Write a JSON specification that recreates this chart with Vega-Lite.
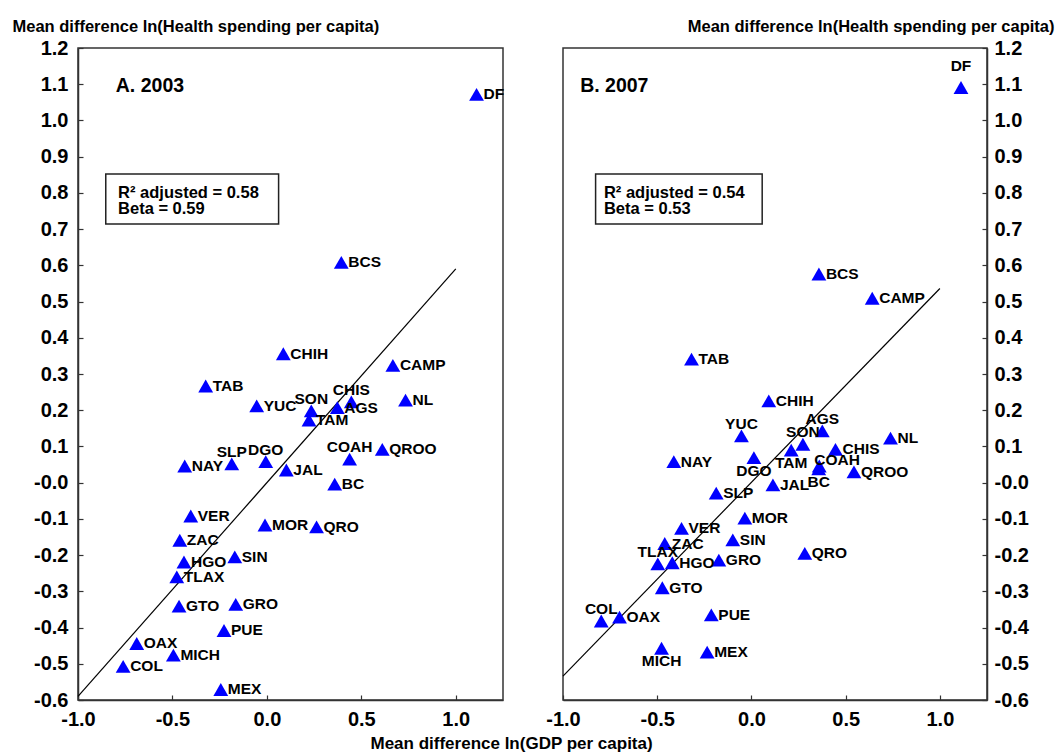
{
  "$schema": "https://vega.github.io/schema/vega-lite/v6.json",
  "background": "white",
  "padding": {"left": 11, "top": 17, "right": 0, "bottom": 0},
  "spacing": 60,
  "bounds": "flush",
  "datasets": {
    "states": [
      {"panel": "A", "state": "DF", "x": 1.110, "y": 1.072},
      {"panel": "A", "state": "BCS", "x": 0.394, "y": 0.608},
      {"panel": "A", "state": "CHIH", "x": 0.087, "y": 0.356},
      {"panel": "A", "state": "CAMP", "x": 0.667, "y": 0.324},
      {"panel": "A", "state": "TAB", "x": -0.324, "y": 0.267},
      {"panel": "A", "state": "YUC", "x": -0.054, "y": 0.212},
      {"panel": "A", "state": "SON", "x": 0.235, "y": 0.198},
      {"panel": "A", "state": "TAM", "x": 0.223, "y": 0.173},
      {"panel": "A", "state": "CHIS", "x": 0.447, "y": 0.223},
      {"panel": "A", "state": "AGS", "x": 0.373, "y": 0.207},
      {"panel": "A", "state": "NL", "x": 0.734, "y": 0.228},
      {"panel": "A", "state": "QROO", "x": 0.611, "y": 0.092},
      {"panel": "A", "state": "COAH", "x": 0.438, "y": 0.065},
      {"panel": "A", "state": "NAY", "x": -0.435, "y": 0.046},
      {"panel": "A", "state": "SLP", "x": -0.186, "y": 0.052},
      {"panel": "A", "state": "DGO", "x": -0.006, "y": 0.058},
      {"panel": "A", "state": "JAL", "x": 0.103, "y": 0.035},
      {"panel": "A", "state": "BC", "x": 0.359, "y": -0.004},
      {"panel": "A", "state": "VER", "x": -0.403, "y": -0.092},
      {"panel": "A", "state": "MOR", "x": -0.010, "y": -0.117},
      {"panel": "A", "state": "QRO", "x": 0.263, "y": -0.122},
      {"panel": "A", "state": "ZAC", "x": -0.461, "y": -0.159},
      {"panel": "A", "state": "SIN", "x": -0.170, "y": -0.205},
      {"panel": "A", "state": "HGO", "x": -0.439, "y": -0.219},
      {"panel": "A", "state": "TLAX", "x": -0.477, "y": -0.260},
      {"panel": "A", "state": "GTO", "x": -0.465, "y": -0.341},
      {"panel": "A", "state": "GRO", "x": -0.165, "y": -0.336},
      {"panel": "A", "state": "PUE", "x": -0.227, "y": -0.408},
      {"panel": "A", "state": "OAX", "x": -0.689, "y": -0.444},
      {"panel": "A", "state": "MICH", "x": -0.495, "y": -0.476},
      {"panel": "A", "state": "COL", "x": -0.761, "y": -0.507},
      {"panel": "A", "state": "MEX", "x": -0.244, "y": -0.571},
      {"panel": "B", "state": "DF", "x": 1.112, "y": 1.091},
      {"panel": "B", "state": "BCS", "x": 0.358, "y": 0.576},
      {"panel": "B", "state": "CAMP", "x": 0.641, "y": 0.509},
      {"panel": "B", "state": "TAB", "x": -0.318, "y": 0.341},
      {"panel": "B", "state": "CHIH", "x": 0.092, "y": 0.226},
      {"panel": "B", "state": "YUC", "x": -0.053, "y": 0.129},
      {"panel": "B", "state": "AGS", "x": 0.376, "y": 0.143},
      {"panel": "B", "state": "SON", "x": 0.273, "y": 0.106},
      {"panel": "B", "state": "TAM", "x": 0.211, "y": 0.090},
      {"panel": "B", "state": "CHIS", "x": 0.446, "y": 0.092},
      {"panel": "B", "state": "NL", "x": 0.738, "y": 0.123},
      {"panel": "B", "state": "NAY", "x": -0.412, "y": 0.058},
      {"panel": "B", "state": "DGO", "x": 0.013, "y": 0.069},
      {"panel": "B", "state": "COAH", "x": 0.360, "y": 0.046},
      {"panel": "B", "state": "BC", "x": 0.357, "y": 0.038},
      {"panel": "B", "state": "QROO", "x": 0.544, "y": 0.030},
      {"panel": "B", "state": "JAL", "x": 0.114, "y": -0.006},
      {"panel": "B", "state": "SLP", "x": -0.187, "y": -0.029},
      {"panel": "B", "state": "MOR", "x": -0.035, "y": -0.098},
      {"panel": "B", "state": "VER", "x": -0.371, "y": -0.126},
      {"panel": "B", "state": "SIN", "x": -0.099, "y": -0.158},
      {"panel": "B", "state": "ZAC", "x": -0.460, "y": -0.168},
      {"panel": "B", "state": "QRO", "x": 0.283, "y": -0.195},
      {"panel": "B", "state": "TLAX", "x": -0.497, "y": -0.224},
      {"panel": "B", "state": "HGO", "x": -0.420, "y": -0.221},
      {"panel": "B", "state": "GRO", "x": -0.173, "y": -0.214},
      {"panel": "B", "state": "GTO", "x": -0.473, "y": -0.290},
      {"panel": "B", "state": "PUE", "x": -0.213, "y": -0.365},
      {"panel": "B", "state": "COL", "x": -0.797, "y": -0.382},
      {"panel": "B", "state": "OAX", "x": -0.700, "y": -0.371},
      {"panel": "B", "state": "MICH", "x": -0.477, "y": -0.457},
      {"panel": "B", "state": "MEX", "x": -0.235, "y": -0.468}
    ],
    "fits": [
      {"panel": "A", "x": -1.0, "y": -0.59},
      {"panel": "A", "x": 1.0, "y": 0.59},
      {"panel": "B", "x": -1.0, "y": -0.534},
      {"panel": "B", "x": 1.0, "y": 0.536}
    ],
    "boxes": [
      {"panel": "A", "x": -0.853, "xe": 0.062, "y": 0.852, "ye": 0.714},
      {"panel": "B", "x": -0.827, "xe": 0.057, "y": 0.852, "ye": 0.714}
    ],
    "notes": [
      {"panel": "A", "text": "R² adjusted = 0.58", "x": -0.788, "y": 0.800},
      {"panel": "A", "text": "Beta = 0.59", "x": -0.788, "y": 0.755},
      {"panel": "B", "text": "R² adjusted = 0.54", "x": -0.783, "y": 0.800},
      {"panel": "B", "text": "Beta = 0.53", "x": -0.783, "y": 0.755}
    ],
    "panels": [
      {"panel": "A", "text": "A. 2003", "x": -0.80, "y": 1.096},
      {"panel": "B", "text": "B. 2007", "x": -0.909, "y": 1.096}
    ]
  },
  "hconcat": [
    {
      "width": 425,
      "height": 652,
      "encoding": {
        "x": {
          "field": "x", "type": "quantitative",
          "scale": {"domain": [-1, 1.25], "nice": false, "zero": false},
          "axis": {
            "values": [-1, -0.5, 0, 0.5, 1],
            "labelOverlap": false,
            "labelExpr": "datum.value < -0.0001 ? '-' + format(abs(datum.value), '.1f') : format(datum.value, '.1f')",
            "title": "Mean difference ln(GDP per capita)",
            "titleX": 292, "titleY": 48,
            "titleAlign": "left", "titleBaseline": "alphabetic",
            "titleFontSize": 17
          }
        },
        "y": {
          "field": "y", "type": "quantitative",
          "scale": {"domain": [-0.6, 1.2], "nice": false, "zero": false},
          "axis": {
            "values": [-0.6, -0.5, -0.4, -0.3, -0.2, -0.1, 0, 0.1, 0.2, 0.3, 0.4, 0.5, 0.6, 0.7, 0.8, 0.9, 1.0, 1.1, 1.2],
            "labelOverlap": false,
            "labelPadding": 15,
            "labelExpr": "datum.value < 0.0001 ? '-' + format(abs(datum.value), '.1f') : format(datum.value, '.1f')",
            "title": "Mean difference ln(Health spending per capita)",
            "titleAngle": 0, "titleX": -66, "titleY": -17,
            "titleAlign": "left", "titleBaseline": "alphabetic",
            "titleFontSize": 16.5
          }
        }
      },
      "layer": [
        {
          "data": {"name": "fits"},
          "transform": [{"filter": "datum.panel === 'A'"}],
          "mark": {"type": "line", "color": "#000", "strokeWidth": 1.2}
        },
        {
          "data": {"name": "boxes"},
          "transform": [{"filter": "datum.panel === 'A'"}],
          "mark": {"type": "rect", "fill": "white", "stroke": "#222", "strokeWidth": 1.5},
          "encoding": {
            "x2": {"field": "xe"},
            "y2": {"field": "ye"}
          }
        },
        {
          "data": {"name": "notes"},
          "transform": [{"filter": "datum.panel === 'A'"}],
          "mark": {"type": "text", "align": "left", "baseline": "middle", "font": "Liberation Sans", "fontWeight": "bold", "fontSize": 16.5, "color": "#000"},
          "encoding": {"text": {"field": "text"}}
        },
        {
          "data": {"name": "panels"},
          "transform": [{"filter": "datum.panel === 'A'"}],
          "mark": {"type": "text", "align": "left", "baseline": "middle", "font": "Liberation Sans", "fontWeight": "bold", "fontSize": 19.5, "color": "#000"},
          "encoding": {"text": {"field": "text"}}
        },
        {
          "data": {"name": "states"},
          "transform": [{"filter": "datum.panel === 'A'"}],
          "mark": {"type": "point", "shape": "triangle-up", "filled": true, "color": "#0000ff", "opacity": 1, "size": 220}
        },
        {
          "data": {"name": "states"},
          "transform": [{"filter": "datum.panel === 'A' && indexof(['CHIS','COAH','SLP','DGO','SON'], datum.state) < 0"}],
          "mark": {"type": "text", "align": "left", "baseline": "middle", "dx": 7, "font": "Liberation Sans", "fontWeight": "bold", "fontSize": 15.5, "color": "#000"},
          "encoding": {"text": {"field": "state"}}
        },
        {
          "data": {"name": "states"},
          "transform": [{"filter": "datum.panel === 'A' && indexof(['CHIS','COAH','SLP','DGO','SON'], datum.state) >= 0"}],
          "mark": {"type": "text", "align": "center", "baseline": "middle", "dy": -12, "font": "Liberation Sans", "fontWeight": "bold", "fontSize": 15.5, "color": "#000"},
          "encoding": {"text": {"field": "state"}}
        }
      ]
    },
    {
      "width": 424,
      "height": 652,
      "encoding": {
        "x": {
          "field": "x", "type": "quantitative",
          "scale": {"domain": [-1, 1.25], "nice": false, "zero": false},
          "axis": {
            "values": [-1, -0.5, 0, 0.5, 1],
            "labelOverlap": false,
            "labelExpr": "datum.value < -0.0001 ? '-' + format(abs(datum.value), '.1f') : format(datum.value, '.1f')",
            "title": null
          }
        },
        "y": {
          "field": "y", "type": "quantitative",
          "scale": {"domain": [-0.6, 1.2], "nice": false, "zero": false},
          "axis": {
            "orient": "right",
            "values": [-0.6, -0.5, -0.4, -0.3, -0.2, -0.1, 0, 0.1, 0.2, 0.3, 0.4, 0.5, 0.6, 0.7, 0.8, 0.9, 1.0, 1.1, 1.2],
            "labelOverlap": false,
            "labelPadding": 12,
            "labelExpr": "datum.value < 0.0001 ? '-' + format(abs(datum.value), '.1f') : format(datum.value, '.1f')",
            "title": "Mean difference ln(Health spending per capita)",
            "titleAngle": 0, "titleX": 67, "titleY": -17,
            "titleAlign": "right", "titleBaseline": "alphabetic",
            "titleFontSize": 16.5
          }
        }
      },
      "layer": [
        {
          "data": {"name": "fits"},
          "transform": [{"filter": "datum.panel === 'B'"}],
          "mark": {"type": "line", "color": "#000", "strokeWidth": 1.2}
        },
        {
          "data": {"name": "boxes"},
          "transform": [{"filter": "datum.panel === 'B'"}],
          "mark": {"type": "rect", "fill": "white", "stroke": "#222", "strokeWidth": 1.5},
          "encoding": {
            "x2": {"field": "xe"},
            "y2": {"field": "ye"}
          }
        },
        {
          "data": {"name": "notes"},
          "transform": [{"filter": "datum.panel === 'B'"}],
          "mark": {"type": "text", "align": "left", "baseline": "middle", "font": "Liberation Sans", "fontWeight": "bold", "fontSize": 16.5, "color": "#000"},
          "encoding": {"text": {"field": "text"}}
        },
        {
          "data": {"name": "panels"},
          "transform": [{"filter": "datum.panel === 'B'"}],
          "mark": {"type": "text", "align": "left", "baseline": "middle", "font": "Liberation Sans", "fontWeight": "bold", "fontSize": 19.5, "color": "#000"},
          "encoding": {"text": {"field": "text"}}
        },
        {
          "data": {"name": "states"},
          "transform": [{"filter": "datum.panel === 'B'"}],
          "mark": {"type": "point", "shape": "triangle-up", "filled": true, "color": "#0000ff", "opacity": 1, "size": 220}
        },
        {
          "data": {"name": "states"},
          "transform": [{"filter": "datum.panel === 'B' && indexof(['DF','YUC','AGS','SON','COL','TLAX','TAM','DGO','BC','MICH','COAH'], datum.state) < 0"}],
          "mark": {"type": "text", "align": "left", "baseline": "middle", "dx": 7, "font": "Liberation Sans", "fontWeight": "bold", "fontSize": 15.5, "color": "#000"},
          "encoding": {"text": {"field": "state"}}
        },
        {
          "data": {"name": "states"},
          "transform": [{"filter": "datum.panel === 'B' && indexof(['YUC','AGS','SON','COL','TLAX'], datum.state) >= 0"}],
          "mark": {"type": "text", "align": "center", "baseline": "middle", "dy": -12, "font": "Liberation Sans", "fontWeight": "bold", "fontSize": 15.5, "color": "#000"},
          "encoding": {"text": {"field": "state"}}
        },
        {
          "data": {"name": "states"},
          "transform": [{"filter": "datum.panel === 'B' && indexof(['TAM','DGO','BC','MICH'], datum.state) >= 0"}],
          "mark": {"type": "text", "align": "center", "baseline": "middle", "dy": 13, "font": "Liberation Sans", "fontWeight": "bold", "fontSize": 15.5, "color": "#000"},
          "encoding": {"text": {"field": "state"}}
        },
        {
          "data": {"name": "states"},
          "transform": [{"filter": "datum.panel === 'B' && datum.state === 'DF'"}],
          "mark": {"type": "text", "align": "center", "baseline": "middle", "dy": -21, "font": "Liberation Sans", "fontWeight": "bold", "fontSize": 15.5, "color": "#000"},
          "encoding": {"text": {"field": "state"}}
        },
        {
          "data": {"name": "states"},
          "transform": [{"filter": "datum.panel === 'B' && datum.state === 'COAH'"}],
          "mark": {"type": "text", "align": "left", "baseline": "middle", "dx": -5, "dy": -6, "font": "Liberation Sans", "fontWeight": "bold", "fontSize": 15.5, "color": "#000"},
          "encoding": {"text": {"field": "state"}}
        }
      ]
    }
  ],
  "config": {
    "view": {"stroke": "#333", "strokeWidth": 1.5},
    "axis": {
      "grid": false,
      "labelFont": "Liberation Sans",
      "labelFontWeight": "bold",
      "labelFontSize": 20,
      "labelColor": "#000",
      "labelFlush": false,
      "labelOverlap": false,
      "titleFont": "Liberation Sans",
      "titleFontWeight": "bold",
      "titleColor": "#000",
      "domainColor": "#333",
      "domainWidth": 1.5,
      "tickColor": "#333",
      "tickWidth": 1.2,
      "tickSize": -5
    },
    "axisX": {"labelPadding": 14}
  }
}
